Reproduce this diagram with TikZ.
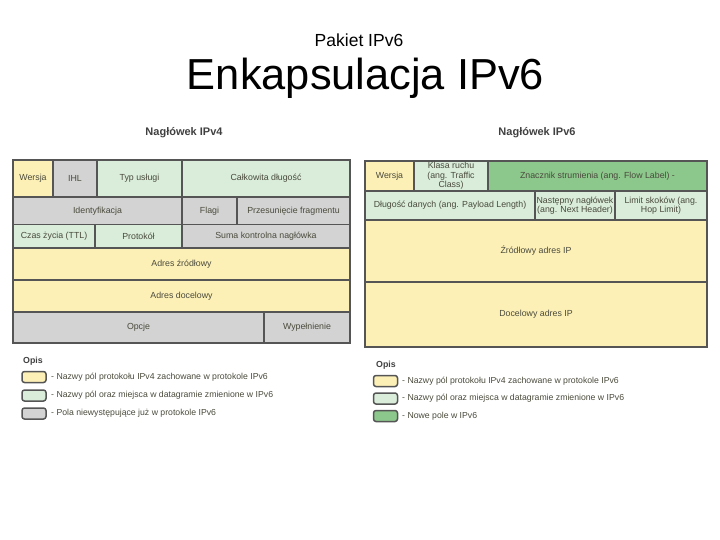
\documentclass[tikz,border=0pt]{standalone}
\usepackage{fontspec}
\setmainfont{Liberation Sans}
\definecolor{cyel}{HTML}{FDF0B6}
\definecolor{cgry}{HTML}{D3D3D3}
\definecolor{cgrn}{HTML}{D9EDDA}
\definecolor{cdgrn}{HTML}{8CC78C}
\definecolor{cbord}{HTML}{555555}
\definecolor{ctxt}{HTML}{4A4A3C}
\tikzset{
  fld/.style={draw=cbord, line width=1.6pt, inner sep=0pt, outer sep=0pt,
    text=ctxt, align=center, font=\fontsize{8.8}{9.4}\selectfont},
  swatch/.style={draw=cbord, line width=1.5pt, rounded corners=2.5pt,
    minimum width=24pt, minimum height=11pt, inner sep=0pt},
  legtxt/.style={anchor=west, text=ctxt, font=\fontsize{8.7}{10}\selectfont, inner sep=0pt},
  head/.style={text=black!75, font=\bfseries\fontsize{11}{13}\selectfont, inner sep=0pt},
  opis/.style={anchor=west, text=black!75, font=\bfseries\fontsize{8.8}{10}\selectfont, inner sep=0pt}
}
% name, x1, x2, y1, y2, fill, text
\newcommand\fld[7]{%
  \node[fld, fill=#6, minimum width={(#3-#2)*1pt}, minimum height={(#5-#4)*1pt}]
    (#1) at ({(#2+#3)/2},{(#4+#5)/2}) {#7};}
\begin{document}
\begin{tikzpicture}[x=1pt, y=-1pt]
\useasboundingbox (0,0) rectangle (720,540);
% titles
\node[anchor=base, inner sep=0pt, font=\fontsize{17.5}{20}\selectfont] (t1) at (359,46.7) {Pakiet IPv6};
\node[anchor=base, inner sep=0pt, font=\fontsize{43.4}{48}\selectfont] (t2) at (365.5,90) {Enkapsulacja IPv6};
% headings
\node[head] (h4) at (184,133) {Nagłówek IPv4};
\node[head] (h6) at (537,133) {Nagłówek IPv6};
% IPv4 header
\fld{a1}{13}{53}{160}{197}{cyel}{Wersja}
\fld{a2}{53}{97}{160}{197}{cgry}{IHL}
\fld{a3}{97}{182}{160}{197}{cgrn}{Typ usługi}
\fld{a4}{182}{350}{160}{197}{cgrn}{Całkowita długość}
\fld{b1}{13}{182}{197}{224.5}{cgry}{Identyfikacja}
\fld{b2}{182}{237}{197}{224.5}{cgry}{Flagi}
\fld{b3}{237}{350}{197}{224.5}{cgry}{Przesunięcie fragmentu}
\fld{c1}{13}{95}{224.5}{248}{cgrn}{Czas życia (TTL)}
\fld{c2}{95}{182}{224.5}{248}{cgrn}{Protokół}
\fld{c3}{182}{350}{224.5}{248}{cgry}{Suma kontrolna nagłówka}
\fld{d1}{13}{350}{248}{280}{cyel}{Adres źródłowy}
\fld{e1}{13}{350}{280}{312}{cyel}{Adres docelowy}
\fld{f1}{13}{264}{312}{343}{cgry}{Opcje}
\fld{f2}{264}{350}{312}{343}{cgry}{Wypełnienie}
% IPv6 header
\fld{p1}{365}{414}{161}{191}{cyel}{Wersja}
\fld{p2}{414}{488}{161}{191}{cgrn}{Klasa ruchu\\(ang. Traffic\\Class)}
\fld{p3}{488}{707}{161}{191}{cdgrn}{Znacznik strumienia (ang. Flow Label) -}
\fld{q1}{365}{535}{191}{220}{cgrn}{Długość danych (ang. Payload Length)}
\fld{q2}{535}{615}{191}{220}{cgrn}{Następny nagłówek\\(ang. Next Header)}
\fld{q3}{615}{707}{191}{220}{cgrn}{Limit skoków (ang.\\Hop Limit)}
\fld{r1}{365}{707}{220}{282}{cyel}{Źródłowy adres IP}
\fld{s1}{365}{707}{282}{347}{cyel}{Docelowy adres IP}
% legend left
\node[opis] (lo) at (23,361) {Opis};
\node[swatch, fill=cyel] (lsa) at (34,377) {};
\node[swatch, fill=cgrn] (lsb) at (34,395.5) {};
\node[swatch, fill=cgry] (lsc) at (34,413.5) {};
\node[legtxt] (lta) at (51,377) {- Nazwy pól protokołu IPv4 zachowane w protokole IPv6};
\node[legtxt] (ltb) at (51,395.5) {- Nazwy pól oraz miejsca w datagramie zmienione w IPv6};
\node[legtxt] (ltc) at (51,413.5) {- Pola niewystępujące już w protokole IPv6};
% legend right
\node[opis] (ro) at (376,365) {Opis};
\node[swatch, fill=cyel] (rsa) at (385.5,381) {};
\node[swatch, fill=cgrn] (rsb) at (385.5,398.5) {};
\node[swatch, fill=cdgrn] (rsc) at (385.5,416) {};
\node[legtxt] (rta) at (402,381) {- Nazwy pól protokołu IPv4 zachowane w protokole IPv6};
\node[legtxt] (rtb) at (402,398.5) {- Nazwy pól oraz miejsca w datagramie zmienione w IPv6};
\node[legtxt] (rtc) at (402,416) {- Nowe pole w IPv6};
\end{tikzpicture}
\end{document}
